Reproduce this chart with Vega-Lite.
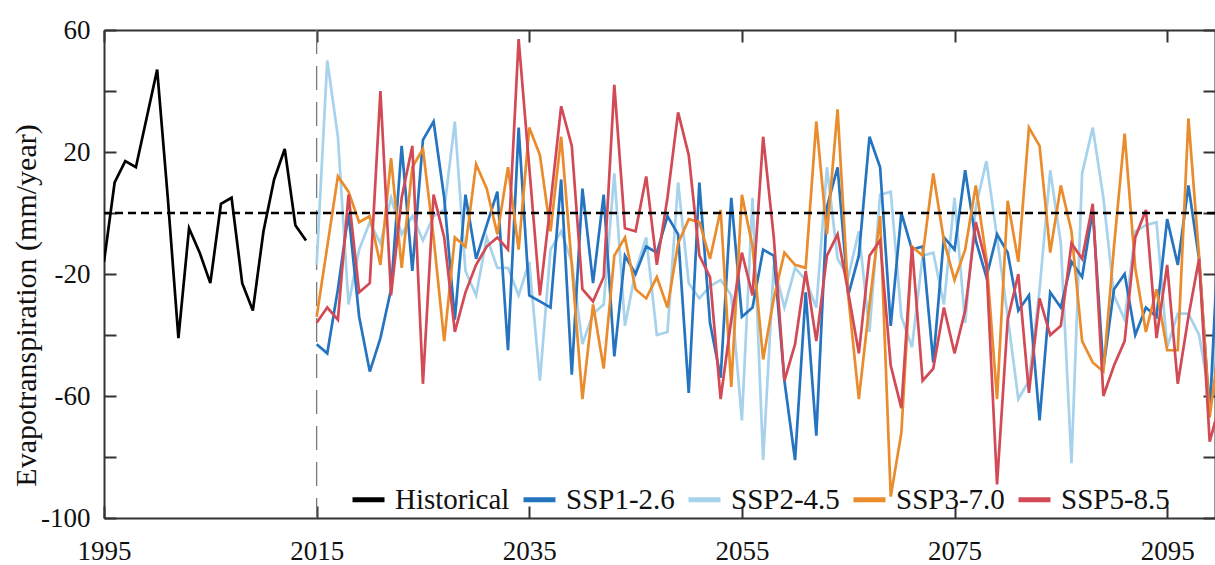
{
  "$schema": "https://vega.github.io/schema/vega-lite/v6.json",
  "width": 1111,
  "height": 488,
  "autosize": "none",
  "padding": {"left": 104, "top": 30, "right": 0, "bottom": 47},
  "background": "white",
  "config": {
    "view": {"stroke": null},
    "legend": {
      "labelFont": "Liberation Serif",
      "labelFontSize": 29,
      "labelColor": "#111111"
    }
  },
  "datasets": {
    "marks": [{"year": 2015, "zero": 0}],
    "et": [
      {"s":"Historical","t":1995,"v":-16},{"s":"Historical","t":1996,"v":10},{"s":"Historical","t":1997,"v":17},{"s":"Historical","t":1998,"v":15},{"s":"Historical","t":1999,"v":31},{"s":"Historical","t":2000,"v":47},{"s":"Historical","t":2001,"v":5},{"s":"Historical","t":2002,"v":-41},{"s":"Historical","t":2003,"v":-5},{"s":"Historical","t":2004,"v":-13},{"s":"Historical","t":2005,"v":-23},{"s":"Historical","t":2006,"v":3},{"s":"Historical","t":2007,"v":5},{"s":"Historical","t":2008,"v":-23},{"s":"Historical","t":2009,"v":-32},{"s":"Historical","t":2010,"v":-6},{"s":"Historical","t":2011,"v":11},{"s":"Historical","t":2012,"v":21},{"s":"Historical","t":2013,"v":-4},{"s":"Historical","t":2014,"v":-9},

      {"s":"SSP1-2.6","t":2015,"v":-43},{"s":"SSP1-2.6","t":2016,"v":-46},{"s":"SSP1-2.6","t":2017,"v":-25},{"s":"SSP1-2.6","t":2018,"v":0},{"s":"SSP1-2.6","t":2019,"v":-34},{"s":"SSP1-2.6","t":2020,"v":-52},{"s":"SSP1-2.6","t":2021,"v":-41},{"s":"SSP1-2.6","t":2022,"v":-25},{"s":"SSP1-2.6","t":2023,"v":22},{"s":"SSP1-2.6","t":2024,"v":-19},{"s":"SSP1-2.6","t":2025,"v":24},{"s":"SSP1-2.6","t":2026,"v":30},{"s":"SSP1-2.6","t":2027,"v":5},{"s":"SSP1-2.6","t":2028,"v":-35},{"s":"SSP1-2.6","t":2029,"v":6},{"s":"SSP1-2.6","t":2030,"v":-15},{"s":"SSP1-2.6","t":2031,"v":-4},{"s":"SSP1-2.6","t":2032,"v":7},{"s":"SSP1-2.6","t":2033,"v":-45},{"s":"SSP1-2.6","t":2034,"v":28},{"s":"SSP1-2.6","t":2035,"v":-27},{"s":"SSP1-2.6","t":2036,"v":-29},{"s":"SSP1-2.6","t":2037,"v":-31},{"s":"SSP1-2.6","t":2038,"v":11},{"s":"SSP1-2.6","t":2039,"v":-53},{"s":"SSP1-2.6","t":2040,"v":8},{"s":"SSP1-2.6","t":2041,"v":-23},{"s":"SSP1-2.6","t":2042,"v":6},{"s":"SSP1-2.6","t":2043,"v":-47},{"s":"SSP1-2.6","t":2044,"v":-14},{"s":"SSP1-2.6","t":2045,"v":-20},{"s":"SSP1-2.6","t":2046,"v":-11},{"s":"SSP1-2.6","t":2047,"v":-13},{"s":"SSP1-2.6","t":2048,"v":-1},{"s":"SSP1-2.6","t":2049,"v":-7},{"s":"SSP1-2.6","t":2050,"v":-59},{"s":"SSP1-2.6","t":2051,"v":10},{"s":"SSP1-2.6","t":2052,"v":-36},{"s":"SSP1-2.6","t":2053,"v":-54},{"s":"SSP1-2.6","t":2054,"v":5},{"s":"SSP1-2.6","t":2055,"v":-34},{"s":"SSP1-2.6","t":2056,"v":-31},{"s":"SSP1-2.6","t":2057,"v":-12},{"s":"SSP1-2.6","t":2058,"v":-14},{"s":"SSP1-2.6","t":2059,"v":-55},{"s":"SSP1-2.6","t":2060,"v":-81},{"s":"SSP1-2.6","t":2061,"v":-26},{"s":"SSP1-2.6","t":2062,"v":-73},{"s":"SSP1-2.6","t":2063,"v":2},{"s":"SSP1-2.6","t":2064,"v":15},{"s":"SSP1-2.6","t":2065,"v":-27},{"s":"SSP1-2.6","t":2066,"v":-14},{"s":"SSP1-2.6","t":2067,"v":25},{"s":"SSP1-2.6","t":2068,"v":15},{"s":"SSP1-2.6","t":2069,"v":-37},{"s":"SSP1-2.6","t":2070,"v":0},{"s":"SSP1-2.6","t":2071,"v":-12},{"s":"SSP1-2.6","t":2072,"v":-11},{"s":"SSP1-2.6","t":2073,"v":-49},{"s":"SSP1-2.6","t":2074,"v":-8},{"s":"SSP1-2.6","t":2075,"v":-12},{"s":"SSP1-2.6","t":2076,"v":14},{"s":"SSP1-2.6","t":2077,"v":-9},{"s":"SSP1-2.6","t":2078,"v":-21},{"s":"SSP1-2.6","t":2079,"v":-7},{"s":"SSP1-2.6","t":2080,"v":-13},{"s":"SSP1-2.6","t":2081,"v":-32},{"s":"SSP1-2.6","t":2082,"v":-27},{"s":"SSP1-2.6","t":2083,"v":-68},{"s":"SSP1-2.6","t":2084,"v":-26},{"s":"SSP1-2.6","t":2085,"v":-31},{"s":"SSP1-2.6","t":2086,"v":-16},{"s":"SSP1-2.6","t":2087,"v":-21},{"s":"SSP1-2.6","t":2088,"v":1},{"s":"SSP1-2.6","t":2089,"v":-51},{"s":"SSP1-2.6","t":2090,"v":-25},{"s":"SSP1-2.6","t":2091,"v":-20},{"s":"SSP1-2.6","t":2092,"v":-40},{"s":"SSP1-2.6","t":2093,"v":-31},{"s":"SSP1-2.6","t":2094,"v":-34},{"s":"SSP1-2.6","t":2095,"v":-2},{"s":"SSP1-2.6","t":2096,"v":-17},{"s":"SSP1-2.6","t":2097,"v":9},{"s":"SSP1-2.6","t":2098,"v":-15},{"s":"SSP1-2.6","t":2099,"v":-66},{"s":"SSP1-2.6","t":2100,"v":5},

      {"s":"SSP2-4.5","t":2015,"v":-17},{"s":"SSP2-4.5","t":2016,"v":50},{"s":"SSP2-4.5","t":2017,"v":25},{"s":"SSP2-4.5","t":2018,"v":-30},{"s":"SSP2-4.5","t":2019,"v":-12},{"s":"SSP2-4.5","t":2020,"v":-3},{"s":"SSP2-4.5","t":2021,"v":-10},{"s":"SSP2-4.5","t":2022,"v":5},{"s":"SSP2-4.5","t":2023,"v":-7},{"s":"SSP2-4.5","t":2024,"v":-1},{"s":"SSP2-4.5","t":2025,"v":-9},{"s":"SSP2-4.5","t":2026,"v":-1},{"s":"SSP2-4.5","t":2027,"v":1},{"s":"SSP2-4.5","t":2028,"v":30},{"s":"SSP2-4.5","t":2029,"v":-19},{"s":"SSP2-4.5","t":2030,"v":-27},{"s":"SSP2-4.5","t":2031,"v":-8},{"s":"SSP2-4.5","t":2032,"v":-18},{"s":"SSP2-4.5","t":2033,"v":-18},{"s":"SSP2-4.5","t":2034,"v":-27},{"s":"SSP2-4.5","t":2035,"v":-16},{"s":"SSP2-4.5","t":2036,"v":-55},{"s":"SSP2-4.5","t":2037,"v":-12},{"s":"SSP2-4.5","t":2038,"v":-6},{"s":"SSP2-4.5","t":2039,"v":-16},{"s":"SSP2-4.5","t":2040,"v":-43},{"s":"SSP2-4.5","t":2041,"v":-33},{"s":"SSP2-4.5","t":2042,"v":-30},{"s":"SSP2-4.5","t":2043,"v":13},{"s":"SSP2-4.5","t":2044,"v":-37},{"s":"SSP2-4.5","t":2045,"v":-19},{"s":"SSP2-4.5","t":2046,"v":-8},{"s":"SSP2-4.5","t":2047,"v":-40},{"s":"SSP2-4.5","t":2048,"v":-39},{"s":"SSP2-4.5","t":2049,"v":10},{"s":"SSP2-4.5","t":2050,"v":-23},{"s":"SSP2-4.5","t":2051,"v":-28},{"s":"SSP2-4.5","t":2052,"v":-24},{"s":"SSP2-4.5","t":2053,"v":-22},{"s":"SSP2-4.5","t":2054,"v":-27},{"s":"SSP2-4.5","t":2055,"v":-68},{"s":"SSP2-4.5","t":2056,"v":5},{"s":"SSP2-4.5","t":2057,"v":-81},{"s":"SSP2-4.5","t":2058,"v":-17},{"s":"SSP2-4.5","t":2059,"v":-31},{"s":"SSP2-4.5","t":2060,"v":-18},{"s":"SSP2-4.5","t":2061,"v":-22},{"s":"SSP2-4.5","t":2062,"v":-31},{"s":"SSP2-4.5","t":2063,"v":15},{"s":"SSP2-4.5","t":2064,"v":-15},{"s":"SSP2-4.5","t":2065,"v":-21},{"s":"SSP2-4.5","t":2066,"v":-6},{"s":"SSP2-4.5","t":2067,"v":-39},{"s":"SSP2-4.5","t":2068,"v":6},{"s":"SSP2-4.5","t":2069,"v":7},{"s":"SSP2-4.5","t":2070,"v":-34},{"s":"SSP2-4.5","t":2071,"v":-44},{"s":"SSP2-4.5","t":2072,"v":-14},{"s":"SSP2-4.5","t":2073,"v":-13},{"s":"SSP2-4.5","t":2074,"v":-30},{"s":"SSP2-4.5","t":2075,"v":5},{"s":"SSP2-4.5","t":2076,"v":-36},{"s":"SSP2-4.5","t":2077,"v":2},{"s":"SSP2-4.5","t":2078,"v":17},{"s":"SSP2-4.5","t":2079,"v":-8},{"s":"SSP2-4.5","t":2080,"v":-34},{"s":"SSP2-4.5","t":2081,"v":-61},{"s":"SSP2-4.5","t":2082,"v":-55},{"s":"SSP2-4.5","t":2083,"v":-25},{"s":"SSP2-4.5","t":2084,"v":14},{"s":"SSP2-4.5","t":2085,"v":-10},{"s":"SSP2-4.5","t":2086,"v":-82},{"s":"SSP2-4.5","t":2087,"v":13},{"s":"SSP2-4.5","t":2088,"v":28},{"s":"SSP2-4.5","t":2089,"v":5},{"s":"SSP2-4.5","t":2090,"v":-27},{"s":"SSP2-4.5","t":2091,"v":-35},{"s":"SSP2-4.5","t":2092,"v":-6},{"s":"SSP2-4.5","t":2093,"v":-4},{"s":"SSP2-4.5","t":2094,"v":-3},{"s":"SSP2-4.5","t":2095,"v":-44},{"s":"SSP2-4.5","t":2096,"v":-33},{"s":"SSP2-4.5","t":2097,"v":-33},{"s":"SSP2-4.5","t":2098,"v":-40},{"s":"SSP2-4.5","t":2099,"v":-60},{"s":"SSP2-4.5","t":2100,"v":-30},

      {"s":"SSP3-7.0","t":2015,"v":-34},{"s":"SSP3-7.0","t":2016,"v":-11},{"s":"SSP3-7.0","t":2017,"v":12},{"s":"SSP3-7.0","t":2018,"v":7},{"s":"SSP3-7.0","t":2019,"v":-3},{"s":"SSP3-7.0","t":2020,"v":-1},{"s":"SSP3-7.0","t":2021,"v":-17},{"s":"SSP3-7.0","t":2022,"v":18},{"s":"SSP3-7.0","t":2023,"v":-18},{"s":"SSP3-7.0","t":2024,"v":15},{"s":"SSP3-7.0","t":2025,"v":21},{"s":"SSP3-7.0","t":2026,"v":-8},{"s":"SSP3-7.0","t":2027,"v":-42},{"s":"SSP3-7.0","t":2028,"v":-8},{"s":"SSP3-7.0","t":2029,"v":-11},{"s":"SSP3-7.0","t":2030,"v":16},{"s":"SSP3-7.0","t":2031,"v":8},{"s":"SSP3-7.0","t":2032,"v":-7},{"s":"SSP3-7.0","t":2033,"v":15},{"s":"SSP3-7.0","t":2034,"v":-12},{"s":"SSP3-7.0","t":2035,"v":28},{"s":"SSP3-7.0","t":2036,"v":19},{"s":"SSP3-7.0","t":2037,"v":-6},{"s":"SSP3-7.0","t":2038,"v":25},{"s":"SSP3-7.0","t":2039,"v":-17},{"s":"SSP3-7.0","t":2040,"v":-61},{"s":"SSP3-7.0","t":2041,"v":-30},{"s":"SSP3-7.0","t":2042,"v":-51},{"s":"SSP3-7.0","t":2043,"v":-14},{"s":"SSP3-7.0","t":2044,"v":-8},{"s":"SSP3-7.0","t":2045,"v":-25},{"s":"SSP3-7.0","t":2046,"v":-28},{"s":"SSP3-7.0","t":2047,"v":-21},{"s":"SSP3-7.0","t":2048,"v":-31},{"s":"SSP3-7.0","t":2049,"v":-10},{"s":"SSP3-7.0","t":2050,"v":-2},{"s":"SSP3-7.0","t":2051,"v":-3},{"s":"SSP3-7.0","t":2052,"v":-15},{"s":"SSP3-7.0","t":2053,"v":1},{"s":"SSP3-7.0","t":2054,"v":-57},{"s":"SSP3-7.0","t":2055,"v":6},{"s":"SSP3-7.0","t":2056,"v":-11},{"s":"SSP3-7.0","t":2057,"v":-48},{"s":"SSP3-7.0","t":2058,"v":-28},{"s":"SSP3-7.0","t":2059,"v":-13},{"s":"SSP3-7.0","t":2060,"v":-17},{"s":"SSP3-7.0","t":2061,"v":-18},{"s":"SSP3-7.0","t":2062,"v":30},{"s":"SSP3-7.0","t":2063,"v":-7},{"s":"SSP3-7.0","t":2064,"v":34},{"s":"SSP3-7.0","t":2065,"v":-27},{"s":"SSP3-7.0","t":2066,"v":-61},{"s":"SSP3-7.0","t":2067,"v":-30},{"s":"SSP3-7.0","t":2068,"v":-1},{"s":"SSP3-7.0","t":2069,"v":-93},{"s":"SSP3-7.0","t":2070,"v":-72},{"s":"SSP3-7.0","t":2071,"v":-11},{"s":"SSP3-7.0","t":2072,"v":-14},{"s":"SSP3-7.0","t":2073,"v":13},{"s":"SSP3-7.0","t":2074,"v":-9},{"s":"SSP3-7.0","t":2075,"v":-22},{"s":"SSP3-7.0","t":2076,"v":-12},{"s":"SSP3-7.0","t":2077,"v":9},{"s":"SSP3-7.0","t":2078,"v":-15},{"s":"SSP3-7.0","t":2079,"v":-61},{"s":"SSP3-7.0","t":2080,"v":4},{"s":"SSP3-7.0","t":2081,"v":-16},{"s":"SSP3-7.0","t":2082,"v":28},{"s":"SSP3-7.0","t":2083,"v":22},{"s":"SSP3-7.0","t":2084,"v":-13},{"s":"SSP3-7.0","t":2085,"v":9},{"s":"SSP3-7.0","t":2086,"v":-6},{"s":"SSP3-7.0","t":2087,"v":-42},{"s":"SSP3-7.0","t":2088,"v":-49},{"s":"SSP3-7.0","t":2089,"v":-52},{"s":"SSP3-7.0","t":2090,"v":-11},{"s":"SSP3-7.0","t":2091,"v":26},{"s":"SSP3-7.0","t":2092,"v":-18},{"s":"SSP3-7.0","t":2093,"v":-39},{"s":"SSP3-7.0","t":2094,"v":-25},{"s":"SSP3-7.0","t":2095,"v":-45},{"s":"SSP3-7.0","t":2096,"v":-45},{"s":"SSP3-7.0","t":2097,"v":31},{"s":"SSP3-7.0","t":2098,"v":-14},{"s":"SSP3-7.0","t":2099,"v":-67},{"s":"SSP3-7.0","t":2100,"v":-40},

      {"s":"SSP5-8.5","t":2015,"v":-36},{"s":"SSP5-8.5","t":2016,"v":-31},{"s":"SSP5-8.5","t":2017,"v":-35},{"s":"SSP5-8.5","t":2018,"v":6},{"s":"SSP5-8.5","t":2019,"v":-26},{"s":"SSP5-8.5","t":2020,"v":-23},{"s":"SSP5-8.5","t":2021,"v":40},{"s":"SSP5-8.5","t":2022,"v":-27},{"s":"SSP5-8.5","t":2023,"v":5},{"s":"SSP5-8.5","t":2024,"v":22},{"s":"SSP5-8.5","t":2025,"v":-56},{"s":"SSP5-8.5","t":2026,"v":6},{"s":"SSP5-8.5","t":2027,"v":-8},{"s":"SSP5-8.5","t":2028,"v":-39},{"s":"SSP5-8.5","t":2029,"v":-26},{"s":"SSP5-8.5","t":2030,"v":-17},{"s":"SSP5-8.5","t":2031,"v":-11},{"s":"SSP5-8.5","t":2032,"v":-8},{"s":"SSP5-8.5","t":2033,"v":-12},{"s":"SSP5-8.5","t":2034,"v":57},{"s":"SSP5-8.5","t":2035,"v":15},{"s":"SSP5-8.5","t":2036,"v":-27},{"s":"SSP5-8.5","t":2037,"v":3},{"s":"SSP5-8.5","t":2038,"v":35},{"s":"SSP5-8.5","t":2039,"v":22},{"s":"SSP5-8.5","t":2040,"v":-25},{"s":"SSP5-8.5","t":2041,"v":-29},{"s":"SSP5-8.5","t":2042,"v":-21},{"s":"SSP5-8.5","t":2043,"v":42},{"s":"SSP5-8.5","t":2044,"v":-5},{"s":"SSP5-8.5","t":2045,"v":-6},{"s":"SSP5-8.5","t":2046,"v":12},{"s":"SSP5-8.5","t":2047,"v":-17},{"s":"SSP5-8.5","t":2048,"v":5},{"s":"SSP5-8.5","t":2049,"v":33},{"s":"SSP5-8.5","t":2050,"v":19},{"s":"SSP5-8.5","t":2051,"v":-14},{"s":"SSP5-8.5","t":2052,"v":-21},{"s":"SSP5-8.5","t":2053,"v":-61},{"s":"SSP5-8.5","t":2054,"v":-35},{"s":"SSP5-8.5","t":2055,"v":-13},{"s":"SSP5-8.5","t":2056,"v":-27},{"s":"SSP5-8.5","t":2057,"v":25},{"s":"SSP5-8.5","t":2058,"v":-8},{"s":"SSP5-8.5","t":2059,"v":-55},{"s":"SSP5-8.5","t":2060,"v":-43},{"s":"SSP5-8.5","t":2061,"v":-19},{"s":"SSP5-8.5","t":2062,"v":-42},{"s":"SSP5-8.5","t":2063,"v":-14},{"s":"SSP5-8.5","t":2064,"v":-7},{"s":"SSP5-8.5","t":2065,"v":-26},{"s":"SSP5-8.5","t":2066,"v":-46},{"s":"SSP5-8.5","t":2067,"v":-14},{"s":"SSP5-8.5","t":2068,"v":-9},{"s":"SSP5-8.5","t":2069,"v":-50},{"s":"SSP5-8.5","t":2070,"v":-64},{"s":"SSP5-8.5","t":2071,"v":-11},{"s":"SSP5-8.5","t":2072,"v":-55},{"s":"SSP5-8.5","t":2073,"v":-51},{"s":"SSP5-8.5","t":2074,"v":-31},{"s":"SSP5-8.5","t":2075,"v":-46},{"s":"SSP5-8.5","t":2076,"v":-32},{"s":"SSP5-8.5","t":2077,"v":-3},{"s":"SSP5-8.5","t":2078,"v":-17},{"s":"SSP5-8.5","t":2079,"v":-89},{"s":"SSP5-8.5","t":2080,"v":-35},{"s":"SSP5-8.5","t":2081,"v":-20},{"s":"SSP5-8.5","t":2082,"v":-59},{"s":"SSP5-8.5","t":2083,"v":-28},{"s":"SSP5-8.5","t":2084,"v":-40},{"s":"SSP5-8.5","t":2085,"v":-37},{"s":"SSP5-8.5","t":2086,"v":-10},{"s":"SSP5-8.5","t":2087,"v":-15},{"s":"SSP5-8.5","t":2088,"v":3},{"s":"SSP5-8.5","t":2089,"v":-60},{"s":"SSP5-8.5","t":2090,"v":-50},{"s":"SSP5-8.5","t":2091,"v":-42},{"s":"SSP5-8.5","t":2092,"v":-8},{"s":"SSP5-8.5","t":2093,"v":1},{"s":"SSP5-8.5","t":2094,"v":-41},{"s":"SSP5-8.5","t":2095,"v":-17},{"s":"SSP5-8.5","t":2096,"v":-56},{"s":"SSP5-8.5","t":2097,"v":-34},{"s":"SSP5-8.5","t":2098,"v":-15},{"s":"SSP5-8.5","t":2099,"v":-75},{"s":"SSP5-8.5","t":2100,"v":-62}
    ]
  },
  "resolve": {"axis": {"x": "independent", "y": "independent"}},
  "layer": [
    {
      "data": {"name": "marks"},
      "mark": {"type": "rule", "stroke": "#7a7a7a", "strokeWidth": 1.3, "strokeDash": [24, 12]},
      "encoding": {
        "x": {"field": "year", "type": "quantitative", "scale": {"domain": [1995, 2099.5], "nice": false, "zero": false},
          "axis": {"orient": "top", "values": [1995, 2015, 2035, 2055, 2075, 2095], "labels": false, "title": null, "grid": false,
            "domainColor": "#333333", "domainWidth": 2, "tickColor": "#333333", "tickWidth": 2, "tickSize": -12}}
      }
    },
    {
      "data": {"name": "et"},
      "transform": [{"filter": "datum.s == 'SSP2-4.5'"}],
      "mark": {"type": "line", "strokeWidth": 2.7, "clip": true},
      "encoding": {
        "x": {"field": "t", "type": "quantitative", "scale": {"domain": [1995, 2099.5], "nice": false, "zero": false},
          "axis": {"orient": "bottom", "values": [1995, 2015, 2035, 2055, 2075, 2095], "labelExpr": "'' + datum.value", "labelFlush": false, "labelPadding": 32, "title": null, "grid": false,
            "domainColor": "#333333", "domainWidth": 2, "tickColor": "#333333", "tickWidth": 2, "tickSize": -12,
            "labelFont": "Liberation Serif", "labelFontSize": 27, "labelColor": "#111111"}},
        "y": {"field": "v", "type": "quantitative", "scale": {"domain": [-100, 60], "nice": false, "zero": false},
          "axis": {"orient": "left", "values": [-100, -80, -60, -40, -20, 0, 20, 40, 60], "labelExpr": "(datum.value + 100) % 40 == 0 ? '' + datum.value : ''", "labelFlush": false, "labelPadding": 26, "grid": false,
            "domainColor": "#333333", "domainWidth": 2, "tickColor": "#333333", "tickWidth": 2, "tickSize": -12,
            "labelFont": "Liberation Serif", "labelFontSize": 27, "labelColor": "#111111",
            "title": "Evapotranspiration (mm/year)", "titleFont": "Liberation Serif", "titleFontSize": 30, "titleFontWeight": "normal", "titleColor": "#111111",
            "titleAngle": -90, "titleX": -69, "titleY": 275, "titleAlign": "center", "titleBaseline": "alphabetic"}},
        "color": {"field": "s", "type": "nominal",
          "scale": {"domain": ["Historical", "SSP1-2.6", "SSP2-4.5", "SSP3-7.0", "SSP5-8.5"], "range": ["#000000", "#2474c0", "#a6d2ec", "#ea8b2c", "#d24a55"]},
          "legend": {"orient": "none", "legendX": 246, "legendY": 451, "direction": "horizontal", "title": null,
            "symbolType": "stroke", "symbolSize": 1024, "symbolStrokeWidth": 5, "labelOffset": 8, "columnPadding": 3, "padding": 0}}
      }
    },
    {
      "data": {"name": "et"},
      "transform": [{"filter": "datum.s == 'SSP1-2.6'"}],
      "mark": {"type": "line", "strokeWidth": 2.7, "clip": true},
      "encoding": {
        "x": {"field": "t", "type": "quantitative", "scale": {"domain": [1995, 2099.5], "nice": false, "zero": false}, "axis": null},
        "y": {"field": "v", "type": "quantitative", "scale": {"domain": [-100, 60], "nice": false, "zero": false}, "axis": null},
        "color": {"field": "s", "type": "nominal"}
      }
    },
    {
      "data": {"name": "et"},
      "transform": [{"filter": "datum.s == 'SSP3-7.0'"}],
      "mark": {"type": "line", "strokeWidth": 2.7, "clip": true},
      "encoding": {
        "x": {"field": "t", "type": "quantitative", "scale": {"domain": [1995, 2099.5], "nice": false, "zero": false}, "axis": null},
        "y": {"field": "v", "type": "quantitative", "scale": {"domain": [-100, 60], "nice": false, "zero": false}, "axis": null},
        "color": {"field": "s", "type": "nominal"}
      }
    },
    {
      "data": {"name": "et"},
      "transform": [{"filter": "datum.s == 'SSP5-8.5'"}],
      "mark": {"type": "line", "strokeWidth": 2.7, "clip": true},
      "encoding": {
        "x": {"field": "t", "type": "quantitative", "scale": {"domain": [1995, 2099.5], "nice": false, "zero": false}, "axis": null},
        "y": {"field": "v", "type": "quantitative", "scale": {"domain": [-100, 60], "nice": false, "zero": false}, "axis": null},
        "color": {"field": "s", "type": "nominal"}
      }
    },
    {
      "data": {"name": "et"},
      "transform": [{"filter": "datum.s == 'Historical'"}],
      "mark": {"type": "line", "strokeWidth": 2.7, "clip": true},
      "encoding": {
        "x": {"field": "t", "type": "quantitative", "scale": {"domain": [1995, 2099.5], "nice": false, "zero": false}, "axis": null},
        "y": {"field": "v", "type": "quantitative", "scale": {"domain": [-100, 60], "nice": false, "zero": false}, "axis": null},
        "color": {"field": "s", "type": "nominal"}
      }
    },
    {
      "data": {"name": "marks"},
      "mark": {"type": "rule", "stroke": "#000000", "strokeWidth": 2.6, "strokeDash": [8, 5]},
      "encoding": {
        "y": {"field": "zero", "type": "quantitative", "scale": {"domain": [-100, 60], "nice": false, "zero": false},
          "axis": {"orient": "right", "values": [-100, -80, -60, -40, -20, 0, 20, 40, 60], "labels": false, "title": null, "grid": false,
            "domainColor": "#333333", "domainWidth": 2, "tickColor": "#333333", "tickWidth": 2, "tickSize": -12}}
      }
    }
  ]
}
